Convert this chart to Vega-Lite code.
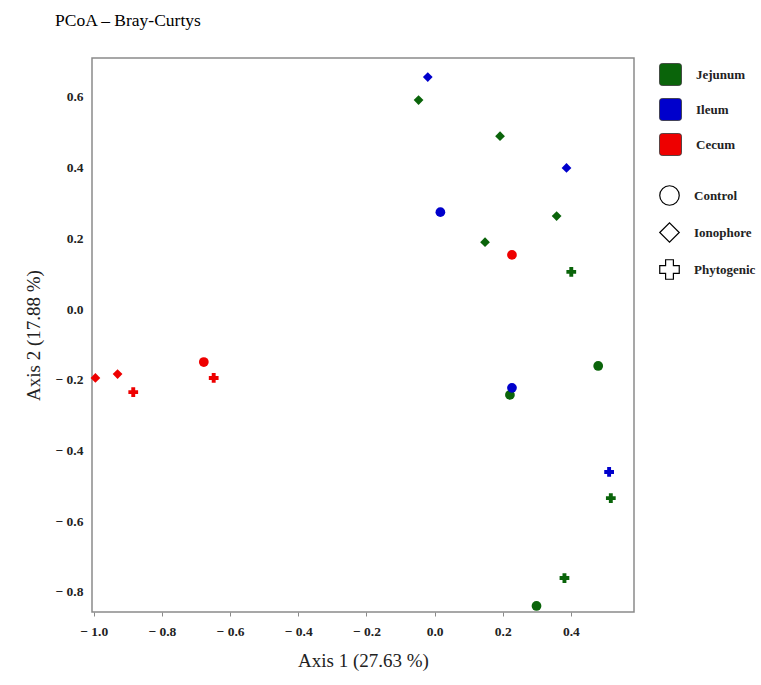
{
  "$schema": "https://vega.github.io/schema/vega-lite/v6.json",
  "autosize": "none",
  "width": 542,
  "height": 554,
  "padding": {"left": 92, "top": 58, "right": 127, "bottom": 73},
  "background": "white",
  "title": {"text": "PCoA – Bray-Curtys", "anchor": "start", "frame": "group", "dx": -37, "offset": 29, "font": "Liberation Serif", "fontSize": 17.5, "fontWeight": "normal", "color": "black"},
  "config": {
    "view": {"stroke": "#8a8a8a", "strokeWidth": 1.5},
    "axis": {"domain": false, "grid": false, "labelFont": "Liberation Serif", "titleFont": "Liberation Serif", "labelColor": "#222", "titleColor": "#222", "labelFontSize": 13.5, "labelFontWeight": "bold", "titleFontSize": 19, "titleFontWeight": "normal", "tickColor": "#8a8a8a"},
    "legend": {"labelFont": "Liberation Serif", "labelFontSize": 13, "labelFontWeight": "bold", "labelColor": "#222", "padding": 0, "titlePadding": 0}
  },
  "data": {"values": [
    {"x": -0.995, "y": -0.195, "site": "Cecum", "treatment": "Ionophore"},
    {"x": -0.93, "y": -0.184, "site": "Cecum", "treatment": "Ionophore"},
    {"x": -0.884, "y": -0.235, "site": "Cecum", "treatment": "Phytogenic"},
    {"x": -0.677, "y": -0.15, "site": "Cecum", "treatment": "Control"},
    {"x": -0.648, "y": -0.195, "site": "Cecum", "treatment": "Phytogenic"},
    {"x": 0.227, "y": 0.153, "site": "Cecum", "treatment": "Control"},
    {"x": -0.02, "y": 0.656, "site": "Ileum", "treatment": "Ionophore"},
    {"x": 0.387, "y": 0.399, "site": "Ileum", "treatment": "Ionophore"},
    {"x": 0.017, "y": 0.274, "site": "Ileum", "treatment": "Control"},
    {"x": 0.512, "y": -0.461, "site": "Ileum", "treatment": "Phytogenic"},
    {"x": -0.047, "y": 0.591, "site": "Jejunum", "treatment": "Ionophore"},
    {"x": 0.192, "y": 0.489, "site": "Jejunum", "treatment": "Ionophore"},
    {"x": 0.358, "y": 0.263, "site": "Jejunum", "treatment": "Ionophore"},
    {"x": 0.148, "y": 0.189, "site": "Jejunum", "treatment": "Ionophore"},
    {"x": 0.401, "y": 0.105, "site": "Jejunum", "treatment": "Phytogenic"},
    {"x": 0.48, "y": -0.161, "site": "Jejunum", "treatment": "Control"},
    {"x": 0.221, "y": -0.243, "site": "Jejunum", "treatment": "Control"},
    {"x": 0.517, "y": -0.535, "site": "Jejunum", "treatment": "Phytogenic"},
    {"x": 0.381, "y": -0.761, "site": "Jejunum", "treatment": "Phytogenic"},
    {"x": 0.299, "y": -0.84, "site": "Jejunum", "treatment": "Control"},
    {"x": 0.227, "y": -0.223, "site": "Ileum", "treatment": "Control"}
  ]},
  "mark": {"type": "point", "filled": true, "opacity": 1, "size": 95},
  "encoding": {
    "x": {"field": "x", "type": "quantitative", "scale": {"domain": [-1.005, 0.585], "nice": false, "zero": false},
      "axis": {"title": "Axis 1 (27.63 %)", "values": [-1, -0.8, -0.6, -0.4, -0.2, 0, 0.2, 0.4], "labelExpr": "datum.value < 0 ? '− ' + format(abs(datum.value), '.1f') : format(datum.value, '.1f')", "tickSize": 4, "labelPadding": 8, "titlePadding": 14}},
    "y": {"field": "y", "type": "quantitative", "scale": {"domain": [-0.857, 0.71], "nice": false, "zero": false},
      "axis": {"title": "Axis 2 (17.88 %)", "values": [-0.8, -0.6, -0.4, -0.2, 0, 0.2, 0.4, 0.6], "labelExpr": "datum.value < 0 ? '− ' + format(abs(datum.value), '.1f') : format(datum.value, '.1f')", "ticks": false, "labelPadding": 9, "titlePadding": 12}},
    "color": {"field": "site", "type": "nominal", "scale": {"domain": ["Jejunum", "Ileum", "Cecum"], "range": ["#0a640a", "#0000cc", "#ee0000"]},
      "legend": {"title": null, "orient": "none", "legendX": 567, "legendY": 5, "symbolType": "M -0.75,-1 L 0.75,-1 Q 1,-1 1,-0.75 L 1,0.75 Q 1,1 0.75,1 L -0.75,1 Q -1,1 -1,0.75 L -1,-0.75 Q -1,-1 -0.75,-1 Z", "symbolSize": 484, "symbolStrokeColor": "#333", "symbolStrokeWidth": 0.8, "rowPadding": 8, "labelOffset": 14}},
    "shape": {"field": "treatment", "type": "nominal", "scale": {"domain": ["Control", "Ionophore", "Phytogenic"], "range": ["circle", "diamond", "cross"]},
      "legend": {"title": null, "orient": "none", "legendX": 567, "legendY": 127, "symbolSize": 380, "symbolFillColor": "white", "symbolStrokeColor": "black", "symbolStrokeWidth": 1.2, "rowPadding": 12, "labelOffset": 14,
        "encode": {"symbols": {"update": {"fill": {"value": "white"}, "stroke": {"value": "black"}, "strokeWidth": {"value": 1.2}}}}}}
  }
}
